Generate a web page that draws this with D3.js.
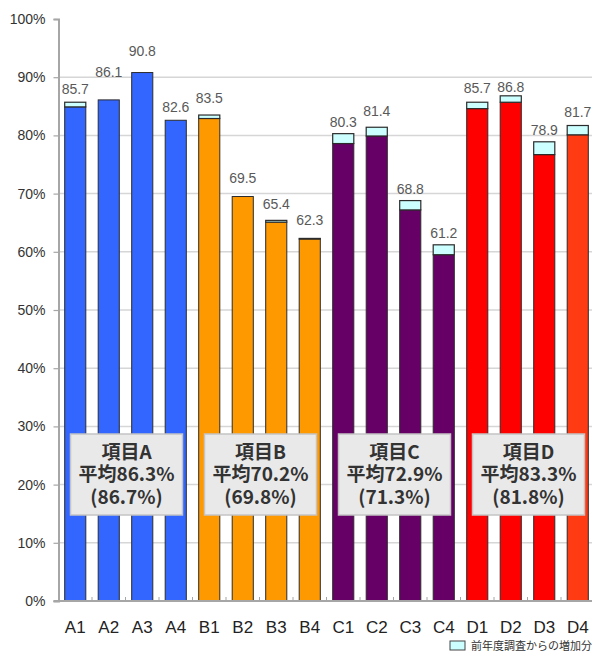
<!DOCTYPE html>
<html>
<head>
<meta charset="utf-8">
<script src="https://cdn.jsdelivr.net/npm/d3@7"></script>
<style>
  html, body { margin: 0; padding: 0; background: #ffffff; }
  svg { display: block; }
</style>
</head>
<body>
<svg id="chart" width="595" height="653"></svg>
<script>
// categories and values
const categories = ["A1", "A2", "A3", "A4", "B1", "B2", "B3", "B4",
                    "C1", "C2", "C3", "C4", "D1", "D2", "D3", "D4"];
const totals   = [85.7, 86.1, 90.8, 82.6, 83.5, 69.5, 65.4, 62.3,
                  80.3, 81.4, 68.8, 61.2, 85.7, 86.8, 78.9, 81.7];
const increase = [0.8, 0, 0, 0, 0.6, 0, 0.3, 0.1,
                  1.7, 1.5, 1.6, 1.7, 1.1, 1.1, 2.2, 1.6];

const groups   = ["A", "B", "C", "D"];
const averages = ["86.3", "70.2", "72.9", "83.3"];
const previous = ["86.7", "69.8", "71.3", "81.8"];

const yTicks = [0, 10, 20, 30, 40, 50, 60, 70, 80, 90, 100];
const legendLabel = "前年度調査からの増加分";

// layout
const svg = d3.select("#chart");
const plotLeft = 58.5, plotRight = 594.5, plotTop = 19, plotBottom = 601;

const x = d3.scaleBand()
    .domain(categories)
    .range([plotLeft, plotRight])
    .paddingInner(0.37)
    .paddingOuter(0.185);

const y = d3.scaleLinear()
    .domain([0, 100])
    .range([plotBottom, plotTop]);

const groupColor = {A: "#3366ff", B: "#ff9900", C: "#660066", D: "#ff0000"};
const barColor = c => c === "D4" ? "#ff3b14" : groupColor[c[0]];

// lift of each value label above its bar top (px), as placed in the reference
const labelLift = [13, 28, 22, 13, 17, 19, 16, 18, 12, 16, 12, 12, 14, 9, 12, 14];

const tickFont = "'Liberation Sans', Arial, sans-serif";
const cjkFont = "'Noto Sans CJK JP', 'Noto Sans', sans-serif";

// gridlines
svg.append("g")
    .selectAll("line")
    .data(yTicks.filter(t => t > 0 && t < 100))
    .join("line")
    .attr("x1", plotLeft)
    .attr("x2", 592)
    .attr("y1", d => y(d))
    .attr("y2", d => y(d))
    .attr("stroke", "#d6d6d6")
    .attr("stroke-width", 1.5);

// y axis
const yAxis = svg.append("g")
    .attr("transform", `translate(${plotLeft},0)`)
    .call(d3.axisLeft(y).tickValues(yTicks).tickFormat(d => d + "%").tickSize(5).tickPadding(8));
yAxis.select(".domain").attr("stroke", "#a6a6a6").attr("stroke-width", 2);
yAxis.selectAll(".tick line").attr("stroke", "#a6a6a6").attr("stroke-width", 1.2);
yAxis.selectAll(".tick text")
    .attr("fill", "#333")
    .style("font-family", tickFont)
    .style("font-size", "14px");

// bars: base part
const bars = svg.append("g");
bars.selectAll("rect.base")
    .data(categories)
    .join("rect")
    .attr("class", "base")
    .attr("x", d => x(d))
    .attr("width", x.bandwidth())
    .attr("y", (d, i) => y(totals[i] - increase[i]))
    .attr("height", (d, i) => y(0) - y(totals[i] - increase[i]))
    .attr("fill", d => barColor(d))
    .attr("stroke", "#2b2b2b")
    .attr("stroke-width", 1);

// bars: increase over previous survey
bars.selectAll("rect.inc")
    .data(categories.filter((d, i) => increase[i] > 0))
    .join("rect")
    .attr("class", "inc")
    .attr("x", d => x(d))
    .attr("width", x.bandwidth())
    .attr("y", d => y(totals[categories.indexOf(d)]))
    .attr("height", d => {
        const i = categories.indexOf(d);
        return y(totals[i] - increase[i]) - y(totals[i]);
    })
    .attr("fill", "#ccffff")
    .attr("stroke", "#2b2b2b")
    .attr("stroke-width", 1.2);

// x axis baseline
svg.append("line")
    .attr("x1", plotLeft - 5)
    .attr("x2", 592)
    .attr("y1", y(0))
    .attr("y2", y(0))
    .attr("stroke", "#a6a6a6")
    .attr("stroke-width", 2);

// small ticks between categories
svg.append("g")
    .selectAll("line")
    .data(categories.slice(1))
    .join("line")
    .attr("x1", d => x(d) - x.step() * x.paddingInner() / 2)
    .attr("x2", d => x(d) - x.step() * x.paddingInner() / 2)
    .attr("y1", y(0))
    .attr("y2", y(0) - 4)
    .attr("stroke", "#a6a6a6")
    .attr("stroke-width", 1);

// category labels
svg.append("g")
    .selectAll("text")
    .data(categories)
    .join("text")
    .attr("x", d => x(d) + x.bandwidth() / 2)
    .attr("y", 633)
    .attr("text-anchor", "middle")
    .attr("fill", "#222")
    .style("font-family", tickFont)
    .style("font-size", "17px")
    .text(d => d);

// value labels
svg.append("g")
    .selectAll("text")
    .data(categories)
    .join("text")
    .attr("x", d => x(d) + x.bandwidth() / 2)
    .attr("y", (d, i) => y(totals[i]) - labelLift[i] + 5)
    .attr("text-anchor", "middle")
    .attr("fill", "#595959")
    .style("font-family", tickFont)
    .style("font-size", "14px")
    .text((d, i) => totals[i].toFixed(1));

// group summary boxes
const boxW = 112, boxH = 81, boxTop = 434;
const box = svg.append("g")
    .selectAll("g")
    .data(groups)
    .join("g")
    .attr("transform", g => {
        const members = categories.filter(c => c[0] === g);
        const cx = (x(members[0]) + x(members[members.length - 1]) + x.bandwidth()) / 2 + 1;
        return `translate(${cx},${boxTop})`;
    });

box.append("rect")
    .attr("x", -boxW / 2)
    .attr("width", boxW)
    .attr("height", boxH)
    .attr("fill", "#e9e9e9")
    .attr("stroke", "#c4c4c4")
    .attr("stroke-width", 1.5);

const boxLines = (g, i) => ["項目" + g, "平均" + averages[i] + "%", "(" + previous[i] + "%)"];
box.each(function (g, i) {
    d3.select(this).selectAll("text")
        .data(boxLines(g, i))
        .join("text")
        .attr("x", 0)
        .attr("y", (d, k) => 24.5 + k * 22.5)
        .attr("text-anchor", "middle")
        .attr("fill", "#333")
        .style("font-family", cjkFont)
        .style("font-weight", "bold")
        .style("font-size", "19px")
        .text(d => d);
});

// legend
const legend = svg.append("g").attr("transform", "translate(450,641)");
legend.append("rect")
    .attr("width", 15)
    .attr("height", 9)
    .attr("fill", "#ccffff")
    .attr("stroke", "#444")
    .attr("stroke-width", 1);
legend.append("text")
    .attr("x", 21)
    .attr("y", 9)
    .attr("fill", "#333")
    .style("font-family", cjkFont)
    .style("font-size", "11px")
    .text(legendLabel);
</script>
</body>
</html>
